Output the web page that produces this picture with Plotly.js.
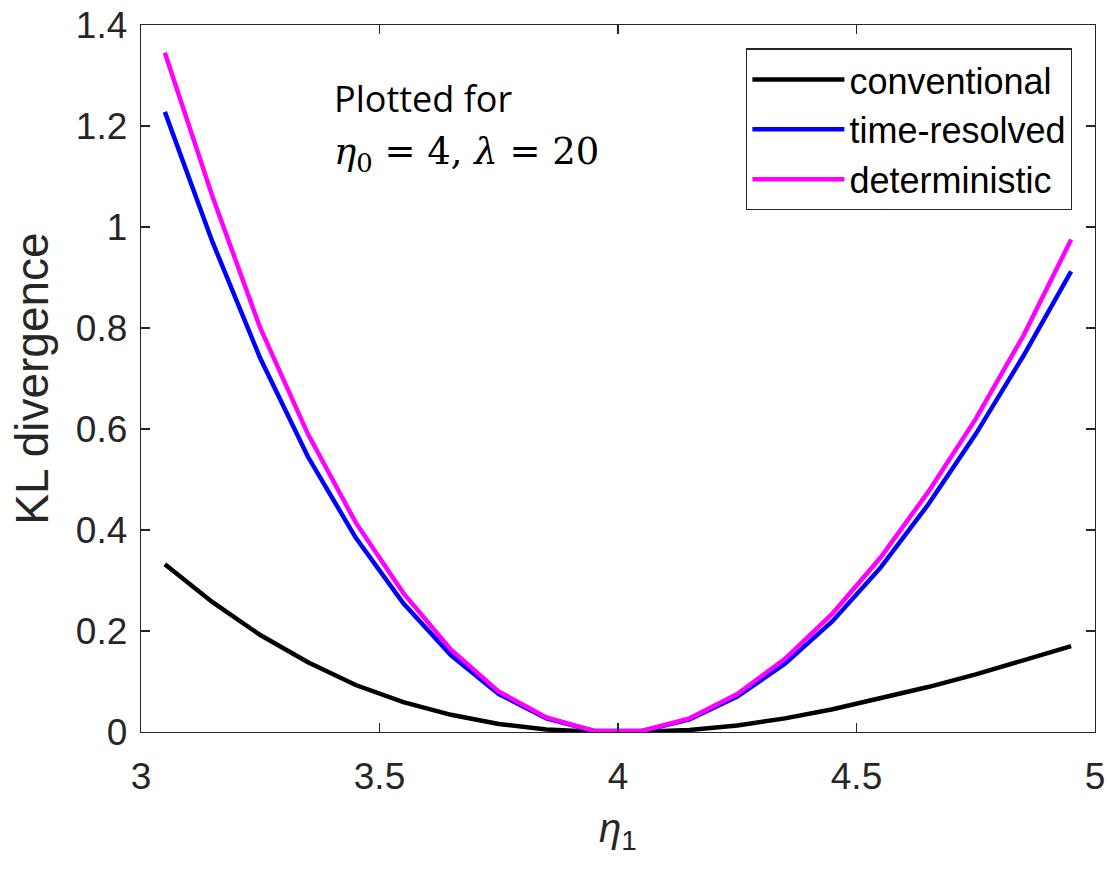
<!DOCTYPE html>
<html>
<head>
<meta charset="utf-8">
<script src="https://cdn.plot.ly/plotly-3.0.1.min.js"></script>
<style>html,body{margin:0;padding:0;background:#fff;}#chart{width:1109px;height:869px;}</style>
</head>
<body>
<div id="chart"></div>
<script>
const eta1 = [3.05,3.15,3.25,3.35,3.45,3.55,3.65,3.75,3.85,3.95,4.05,4.15,4.25,4.35,4.45,4.55,4.65,4.75,4.85,4.95];
const conventional = [0.332,0.257,0.192,0.138,0.093,0.059,0.034,0.016,0.005,0.0005,0.0005,0.004,0.013,0.027,0.045,0.066,0.089,0.114,0.141,0.170];
const timeResolved = [1.228,0.970,0.740,0.545,0.385,0.255,0.152,0.075,0.027,0.002,0.002,0.025,0.070,0.135,0.220,0.325,0.450,0.590,0.745,0.912];
const deterministic = [1.345,1.060,0.800,0.590,0.415,0.275,0.163,0.080,0.029,0.002,0.002,0.027,0.075,0.145,0.235,0.345,0.475,0.620,0.785,0.975];
const seriesNames = ['conventional','time-resolved','deterministic'];
const xTicks = [3,3.5,4,4.5,5];
const yTicks = [0,0.2,0.4,0.6,0.8,1,1.2,1.4];

const colors = ['#000000','#0000FF','#FF00FF'];
const data = [conventional,timeResolved,deterministic].map((y,i)=>({
  x: eta1, y: y, type:'scatter', mode:'lines', name: seriesNames[i],
  line:{color:colors[i], width:4.5}
}));

const axisCommon = {
  showgrid:false, zeroline:false, showline:true, linecolor:'#262626', linewidth:1.3,
  mirror:'ticks', ticks:'inside', ticklen:9, tickwidth:1.3, tickcolor:'#262626',
  tickfont:{family:'Liberation Sans, Arial, sans-serif', size:37, color:'#262626'}
};

const layout = {
  width:1109, height:869,
  margin:{l:141, r:14, t:25, b:137},
  paper_bgcolor:'#fff', plot_bgcolor:'#fff',
  showlegend:true,
  xaxis: Object.assign({}, axisCommon, {
    range:[3,5], tickvals:xTicks, ticktext:xTicks.map(String), ticklabelstandoff:11,
    title:{text:'<i>η</i><sub>1</sub>', font:{family:'Liberation Sans, Arial, sans-serif', size:40, color:'#262626'}, standoff:18}
  }),
  yaxis: Object.assign({}, axisCommon, {
    range:[0,1.4], tickvals:yTicks, ticktext:yTicks.map(String), ticklabelstandoff:5,
    title:{text:'KL divergence', font:{family:'Liberation Sans, Arial, sans-serif', size:46, color:'#262626'}, standoff:12}
  }),
  legend:{
    x:0.976, y:0.967, xanchor:'right', yanchor:'top',
    bgcolor:'#fff', bordercolor:'#262626', borderwidth:1.3,
    font:{family:'Liberation Sans, Arial, sans-serif', size:36, color:'#000'},
    itemwidth:92, tracegroupgap:0
  },
  annotations:[
    {xref:'paper', yref:'paper', x:0.2, y:0.896, xanchor:'left', yanchor:'middle', showarrow:false,
     text:'Plotted for', font:{family:'Open Sans, Noto Sans, sans-serif', size:36, color:'#000'}},
    {xref:'paper', yref:'paper', x:0.2, y:0.818, xanchor:'left', yanchor:'middle', showarrow:false,
     text:'<i>η</i><sub>0</sub> = 4, <i>λ</i> = 20', font:{family:'DejaVu Serif, Liberation Serif, serif', size:37, color:'#000'}}
  ]
};

Plotly.newPlot('chart', data, layout, {displayModeBar:false, staticPlot:true});
</script>
</body>
</html>
